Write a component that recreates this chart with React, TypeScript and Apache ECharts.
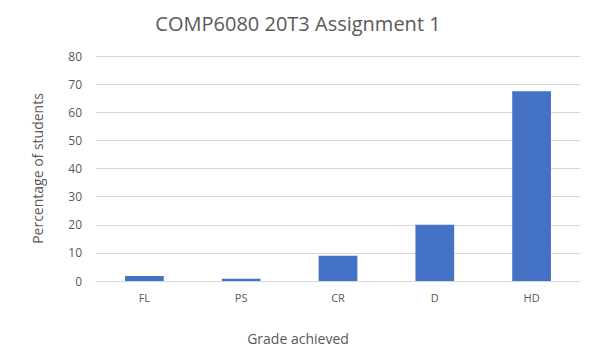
import React, { useEffect, useRef } from "react";
import * as echarts from "echarts";

const categories = ["FL", "PS", "CR", "D", "HD"];
const percentages = [1.8, 0.8, 9.0, 20.0, 67.5];
const yTicks = { min: 0, max: 80, interval: 10 };

export default function App() {
  const ref = useRef<HTMLDivElement>(null);
  useEffect(() => {
    document.body.style.margin = "0";
    const chart = echarts.init(ref.current!, null, { renderer: "svg" });
    const font = "'Open Sans', 'Noto Sans', sans-serif";
    chart.setOption({
      animation: false,
      backgroundColor: "#ffffff",
      title: [
        {
          text: "COMP6080 20T3 Assignment 1",
          left: "center",
          top: 8,
          textStyle: { fontFamily: font, fontSize: 20, fontWeight: "normal", color: "#595959" },
        },
        {
          text: "Grade achieved",
          left: "center",
          top: 326,
          textStyle: { fontFamily: font, fontSize: 14, fontWeight: "normal", color: "#595959" },
        },
      ],
      grid: { left: 96, right: 16, top: 56, bottom: 71 },
      xAxis: {
        type: "category",
        data: categories,
        axisLine: { lineStyle: { color: "#d9d9d9" } },
        axisTick: { show: false },
        axisLabel: { fontFamily: font, fontSize: 11, color: "#595959", margin: 11 },
      },
      yAxis: {
        type: "value",
        min: yTicks.min,
        max: yTicks.max,
        interval: yTicks.interval,
        name: "Percentage of students",
        nameLocation: "middle",
        nameGap: 52,
        nameTextStyle: { fontFamily: font, fontSize: 14, color: "#595959" },
        axisLine: { show: false },
        axisTick: { show: false },
        axisLabel: { fontFamily: font, fontSize: 12, color: "#595959", margin: 14 },
        splitLine: { lineStyle: { color: "#d9d9d9" } },
      },
      series: [
        {
          type: "bar",
          data: percentages,
          barWidth: "40%",
          itemStyle: { color: "#4472c4" },
        },
      ],
    });
    return () => chart.dispose();
  }, []);
  return <div ref={ref} style={{ width: 596, height: 352 }} />;
}
